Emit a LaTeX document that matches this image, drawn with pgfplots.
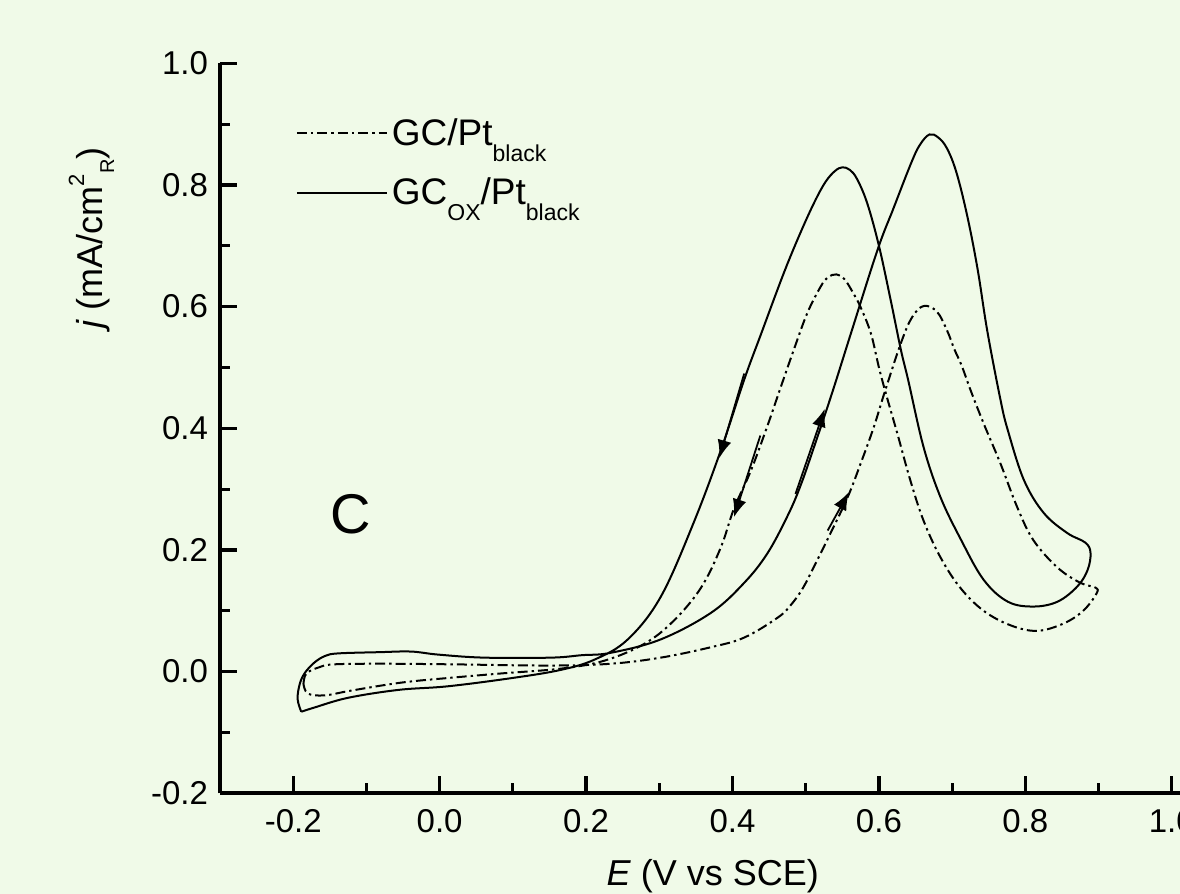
\documentclass[border=0pt]{standalone}
\usepackage{fontspec}
\setmainfont{Liberation Sans}
\usepackage{pgfplots}
\pgfplotsset{compat=1.18}
\usetikzlibrary{arrows.meta}
\definecolor{bgc}{RGB}{240,250,232}
\newcommand{\lsub}[1]{\raisebox{-8pt}{\fontsize{11.5}{12}\selectfont #1}}
\newcommand{\ysup}[1]{\raisebox{9pt}{\fontsize{11}{12}\selectfont #1}}
\newcommand{\ysub}[1]{\raisebox{-6pt}{\fontsize{10}{12}\selectfont #1}}
\begin{document}
\begin{tikzpicture}
\fill[bgc] (-110pt,-50.35pt) rectangle (480pt,396.65pt);
\begin{axis}[
  scale only axis, width=494.2pt, height=365pt,
  xmin=-0.3, xmax=1.05, ymin=-0.2, ymax=1.0,
  axis lines=left, axis line style={-, line width=2pt},
  tick align=inside,
  xtick={-0.2,0,0.2,0.4,0.6,0.8,1.0},
  ytick={-0.2,0,0.2,0.4,0.6,0.8,1.0},
  minor x tick num=1, minor y tick num=1,
  major tick length=8.5pt, minor tick length=5pt,
  every tick/.append style={black, line width=1.6pt},
  tick label style={font=\fontsize{16.5}{19}\selectfont},
  xticklabel style={yshift=-4.5pt},
  yticklabel style={xshift=-2.5pt},
  /pgf/number format/fixed,
  /pgf/number format/fixed zerofill,
  /pgf/number format/precision=1,
  /pgf/number format/assume math mode=true,
  clip=false,
  legend style={draw=none, fill=none, at={(axis cs:-0.205,0.923)}, anchor=north west,
    font=\fontsize{18.5}{22}\selectfont, nodes={inner sep=2pt}, row sep=10.9pt,
    /tikz/every even column/.append style={column sep=2.5pt}},
  legend cell align=left,
  legend image code/.code={\draw[#1] (0pt,0pt) -- (45pt,0pt);},
]
\addplot[black, line width=1pt, smooth, tension=0.6, dash pattern=on 5pt off 2pt on 1.2pt off 2pt] coordinates {
(-0.186,-0.020) (-0.182,-0.003) (-0.165,0.007) (-0.144,0.012) (-0.075,0.013) (0.016,0.012)
(0.152,0.010) (0.234,0.013) (0.302,0.023) (0.370,0.040) (0.416,0.056) (0.462,0.089)
(0.480,0.110) (0.496,0.137) (0.511,0.172) (0.530,0.218) (0.557,0.286) (0.575,0.342) (0.593,0.402)
(0.608,0.460) (0.630,0.540) (0.645,0.582) (0.661,0.601) (0.679,0.592) (0.693,0.561)
(0.703,0.530) (0.713,0.503) (0.726,0.460) (0.743,0.408) (0.766,0.342) (0.789,0.270)
(0.811,0.216) (0.844,0.171) (0.875,0.146) (0.896,0.138) (0.897,0.128) (0.879,0.100)
(0.852,0.079) (0.816,0.067) (0.780,0.076) (0.743,0.100) (0.711,0.138) (0.684,0.188)
(0.661,0.248) (0.643,0.314) (0.625,0.392) (0.610,0.455) (0.600,0.500) (0.589,0.556)
(0.575,0.599) (0.565,0.622) (0.553,0.645) (0.542,0.653) (0.530,0.648) (0.520,0.632)
(0.502,0.589) (0.484,0.530) (0.466,0.468) (0.448,0.405) (0.425,0.330) (0.402,0.268)
(0.384,0.204) (0.357,0.138) (0.320,0.084) (0.280,0.046) (0.225,0.018) (0.166,0.005)
(0.084,-0.003) (0.016,-0.010) (-0.052,-0.018) (-0.120,-0.031) (-0.157,-0.039)
(-0.180,-0.036) (-0.186,-0.020)
};
\addlegendentry{GC/Pt\lsub{black}}
\addplot[black, line width=1pt, smooth, tension=0.6] coordinates {
(-0.189,-0.066) (-0.194,-0.045) (-0.191,-0.020) (-0.184,-0.002) (-0.171,0.015)
(-0.156,0.026) (-0.138,0.030) (-0.082,0.032) (-0.039,0.033) (-0.002,0.028) (0.061,0.023)
(0.152,0.023) (0.194,0.027) (0.234,0.031) (0.302,0.053) (0.371,0.097) (0.416,0.146)
(0.448,0.195) (0.476,0.258) (0.493,0.306) (0.511,0.368) (0.536,0.458) (0.562,0.557)
(0.598,0.693) (0.620,0.762) (0.644,0.836) (0.656,0.866) (0.669,0.883) (0.681,0.878)
(0.693,0.860) (0.706,0.820) (0.721,0.747) (0.735,0.660) (0.748,0.560) (0.766,0.447) (0.776,0.397)
(0.798,0.315) (0.825,0.261) (0.857,0.228) (0.882,0.212) (0.889,0.195) (0.885,0.167)
(0.871,0.140) (0.844,0.115) (0.811,0.107) (0.776,0.115) (0.743,0.151) (0.712,0.217)
(0.684,0.287) (0.661,0.369) (0.640,0.479) (0.630,0.529) (0.616,0.611) (0.600,0.700)
(0.584,0.770) (0.570,0.810) (0.560,0.825) (0.550,0.829) (0.540,0.823) (0.527,0.805)
(0.512,0.772) (0.493,0.722) (0.470,0.655) (0.439,0.555) (0.416,0.480) (0.385,0.367) (0.347,0.245)
(0.302,0.123) (0.257,0.053) (0.212,0.020) (0.166,0.003) (0.102,-0.010) (0.012,-0.024)
(-0.056,-0.030) (-0.125,-0.043) (-0.171,-0.059) (-0.189,-0.066)
};
\addlegendentry{GC\lsub{OX}/Pt\lsub{black}}
% scan-direction arrows
\draw[-{Latex[length=9pt,width=7pt]}, line width=0.9pt] (axis cs:0.416,0.490) -- (axis cs:0.382,0.351);
\draw[-{Latex[length=9pt,width=7pt]}, line width=0.9pt] (axis cs:0.438,0.388) -- (axis cs:0.402,0.254);
\draw[-{Latex[length=9pt,width=7pt]}, line width=0.9pt] (axis cs:0.486,0.292) -- (axis cs:0.526,0.432);
\draw[-{Latex[length=9pt,width=7pt]}, line width=0.9pt] (axis cs:0.530,0.232) -- (axis cs:0.559,0.295);
% labels
\node[font=\fontsize{28}{30}\selectfont] at (axis cs:-0.122,0.258) {C};
\node[anchor=base, font=\fontsize{18}{21}\selectfont] at (axis cs:0.373,-0.352) {\textit{E} (V vs SCE)};
\node[anchor=base, rotate=90, font=\fontsize{18}{21}\selectfont] at (axis cs:-0.461,0.7125) {\textit{j} (mA/cm\ysup{2}\ysub{R})};
\end{axis}
\pgfresetboundingbox
\path[use as bounding box] (-110pt,-50.35pt) rectangle (480pt,396.65pt);
\end{tikzpicture}
\end{document}
